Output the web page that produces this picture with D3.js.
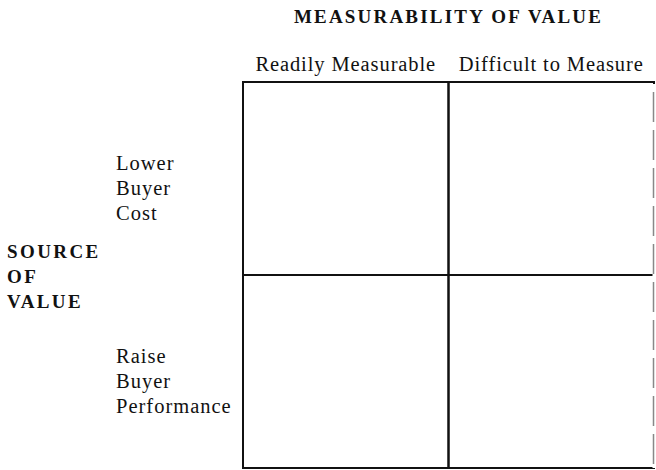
<!DOCTYPE html>
<html>
<head>
<meta charset="utf-8">
<script src="https://cdn.jsdelivr.net/npm/d3@7"></script>
<style>
  body { margin: 0; background: #fff; }
  text { font-family: "Liberation Serif", "Times New Roman", serif; fill: #111; }
</style>
</head>
<body>
<svg id="chart" width="656" height="470"></svg>
<script>
// matrix headings
const title = "MEASURABILITY OF VALUE";
const columns = ["Readily Measurable", "Difficult to Measure"];
const rows = ["Lower Buyer Cost", "Raise Buyer Performance"];
const sideTitle = ["SOURCE", "OF", "VALUE"];

const svg = d3.select("#chart");
const box = {left: 243, right: 654, top: 82, bottom: 468};

// band scales give each cell the same width / height
const x = d3.scaleBand().domain(columns).range([box.left, box.right]);
const y = d3.scaleBand().domain(rows).range([box.top, box.bottom]);

// title on top
svg.append("text")
  .attr("x", (box.left + box.right) / 2)
  .attr("y", 23)
  .attr("text-anchor", "middle")
  .style("font-weight", "bold")
  .style("font-size", "19px")
  .style("letter-spacing", "2.2px")
  .text(title);

// column headings
svg.selectAll(".col-label")
  .data(columns)
  .enter()
  .append("text")
  .attr("class", "col-label")
  .attr("x", d => x(d) + x.bandwidth() / 2)
  .attr("y", box.top - 11)
  .attr("text-anchor", "middle")
  .style("font-size", "20.5px")
  .style("letter-spacing", "0.9px")
  .text(d => d);

// row headings, one word per line
const lineGap = 25;
const rowLabels = svg.selectAll(".row-label")
  .data(rows)
  .enter()
  .append("text")
  .attr("class", "row-label")
  .attr("x", 116)
  .attr("y", d => y(d) + y.bandwidth() * 0.455)
  .style("font-size", "20.5px")
  .style("letter-spacing", "1px");

rowLabels.selectAll("tspan")
  .data(d => d.split(" "))
  .enter()
  .append("tspan")
  .attr("x", 116)
  .attr("dy", (d, i) => i === 0 ? 0 : lineGap)
  .text(d => d);

// side title, centred on the middle line
const mid = y(rows[1]);
svg.append("text")
  .attr("x", 7)
  .attr("y", mid)
  .style("font-weight", "bold")
  .style("font-size", "19px")
  .style("letter-spacing", "2.4px")
  .selectAll("tspan")
  .data(sideTitle)
  .enter()
  .append("tspan")
  .attr("x", 7)
  .attr("dy", (d, i) => i === 0 ? -17 : lineGap)
  .text(d => d);

// grid cells
const cells = [];
rows.forEach(r => columns.forEach(c => cells.push({r, c})));

svg.selectAll(".cell")
  .data(cells)
  .enter()
  .append("rect")
  .attr("class", "cell")
  .attr("x", d => x(d.c))
  .attr("y", d => y(d.r))
  .attr("width", x.bandwidth())
  .attr("height", y.bandwidth())
  .attr("fill", "none")
  .attr("stroke", "#111")
  .attr("stroke-width", 2);

// the scanned right edge is faint and broken
svg.append("line")
  .attr("x1", box.right).attr("x2", box.right)
  .attr("y1", box.top + 2).attr("y2", box.bottom)
  .attr("stroke", "#fff")
  .attr("stroke-width", 3);
svg.append("line")
  .attr("x1", box.right - 0.5).attr("x2", box.right - 0.5)
  .attr("y1", box.top + 10).attr("y2", box.bottom)
  .attr("stroke", "#888")
  .attr("stroke-width", 1.5)
  .attr("stroke-dasharray", "30,8");
</script>
</body>
</html>
